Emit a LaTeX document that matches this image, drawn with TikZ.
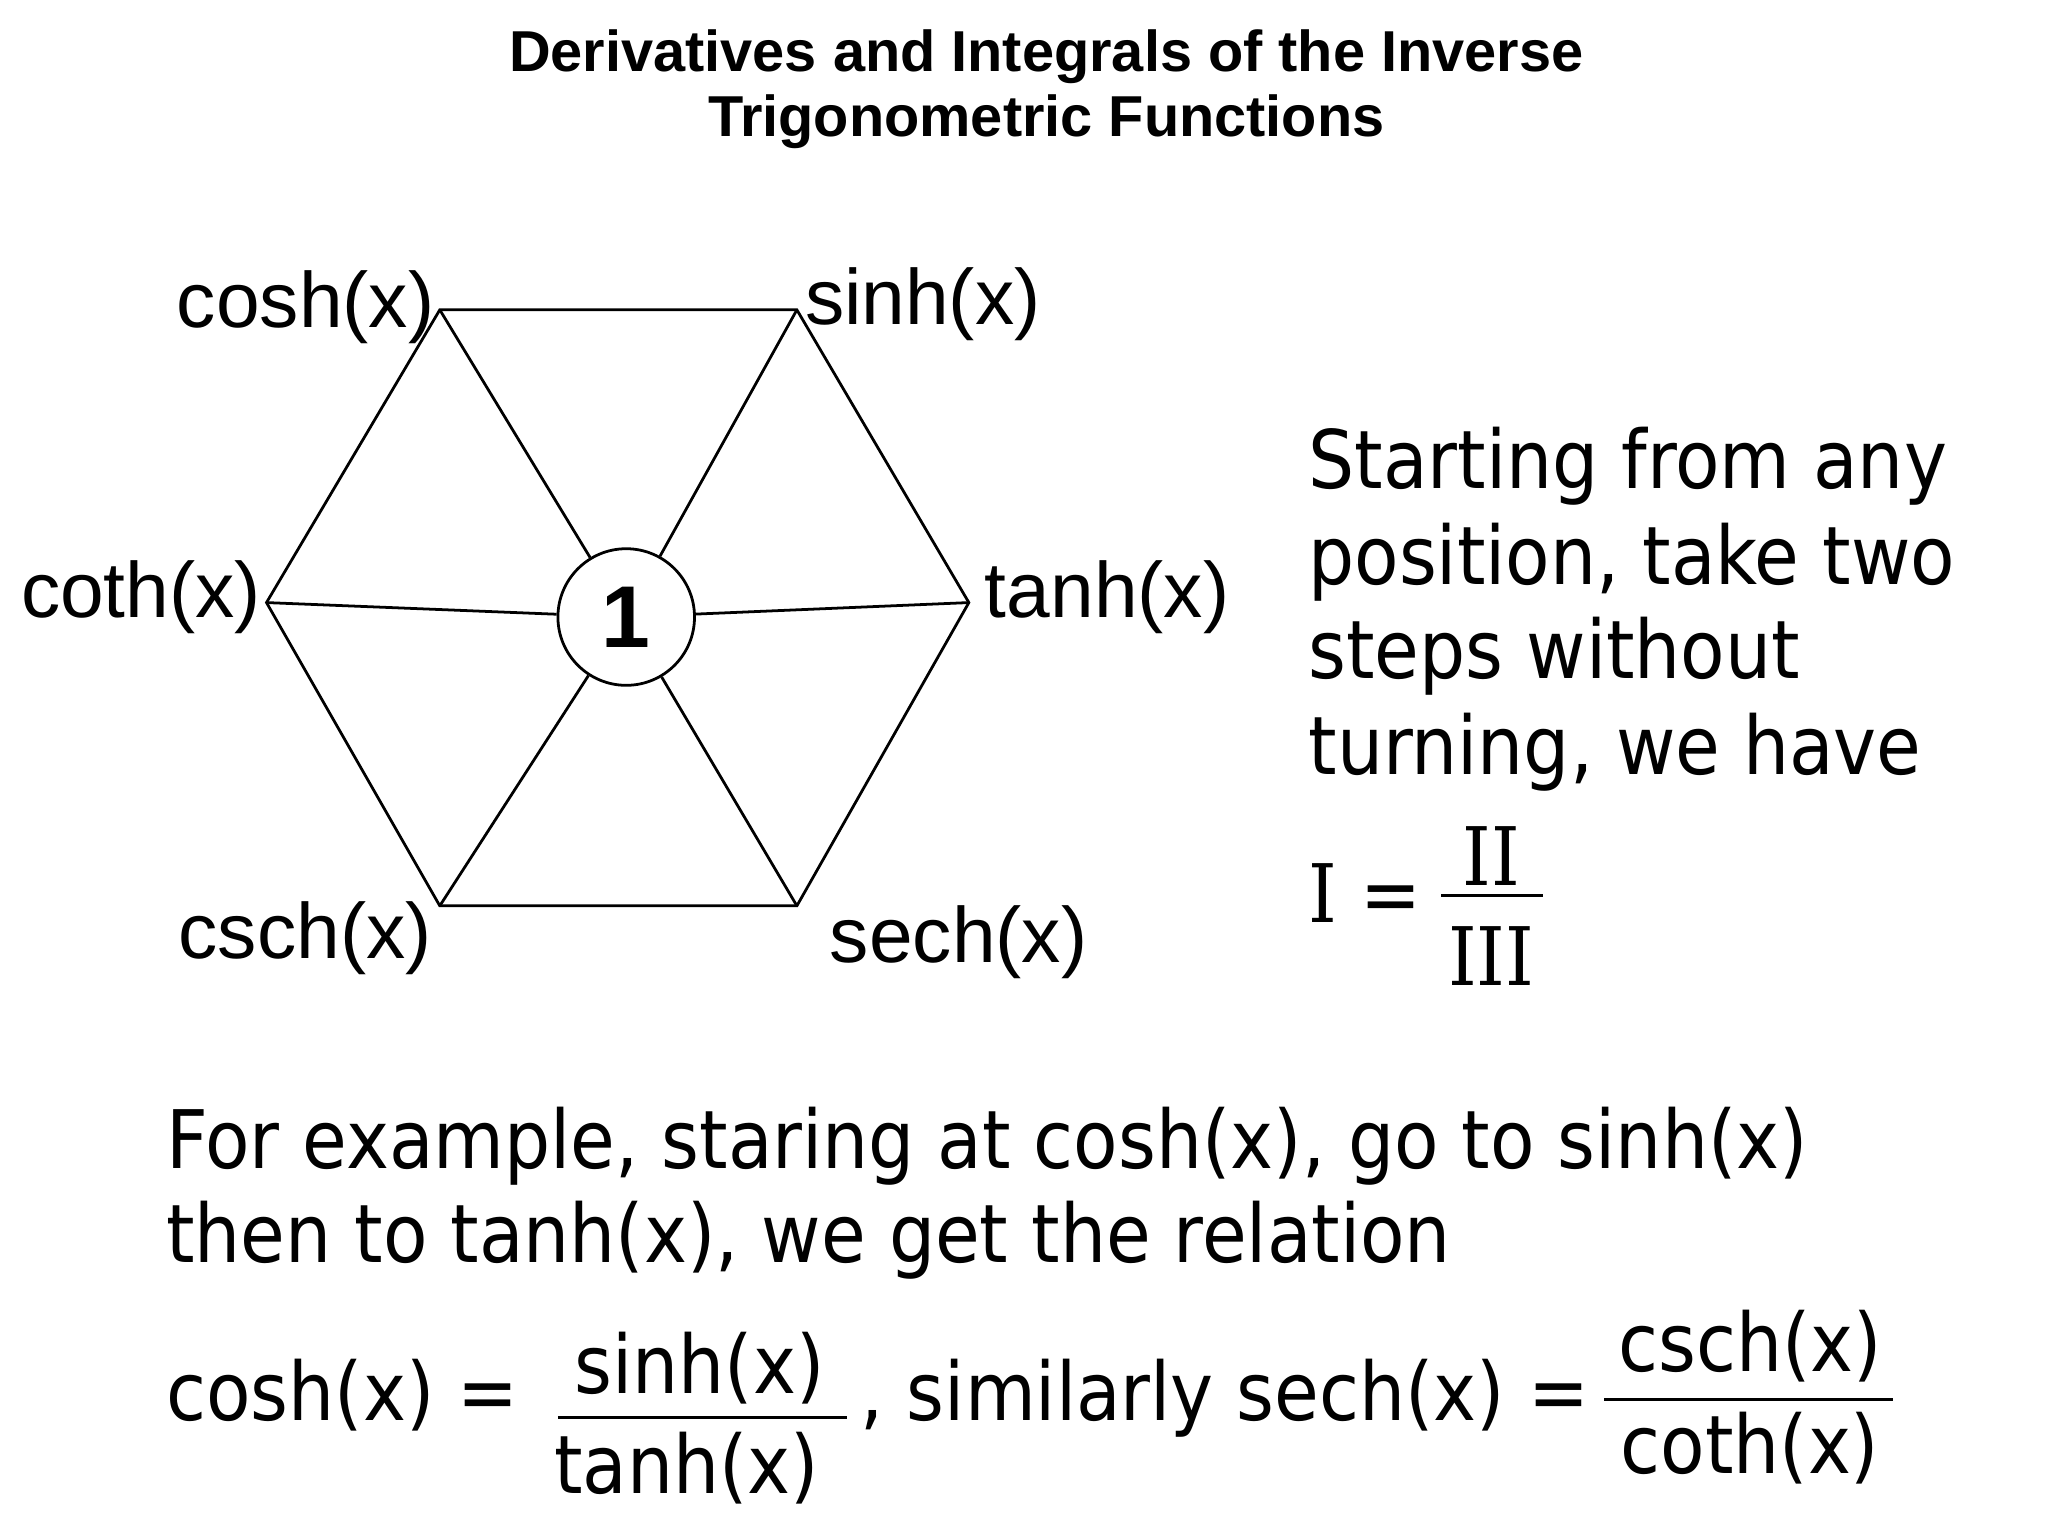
\documentclass[tikz,border=0pt]{standalone}
\usepackage{fontspec}
\setmainfont{Liberation Sans}
\newfontfamily\bodyf{DejaVu Sans Condensed}
\newfontfamily\romf{DejaVu Serif Condensed}
\begin{document}
\begin{tikzpicture}[x=0.01cm,y=-0.01cm,
  lab/.style={font=\fontsize{17}{20}\selectfont},
  body/.style={font=\bodyf\fontsize{17.5}{21}\selectfont,anchor=base west,inner sep=0},
  edge/.style={line width=0.6pt}]
\useasboundingbox (0,0) rectangle (1560,1170);
\node[font=\bfseries\fontsize{12.5}{15}\selectfont,align=center] (title) at (797,68) {Derivatives and Integrals of the Inverse\\[-1pt]Trigonometric Functions};
\coordinate (A) at (335,236); \coordinate (B) at (607,236); \coordinate (C) at (738,459);
\coordinate (D) at (607,690); \coordinate (E) at (335,690); \coordinate (F) at (203,459);
\node[draw,circle,minimum size=1.04cm,inner sep=0,font=\bfseries\fontsize{19}{22}\selectfont,edge] (o) at (477,470) {1};
\draw[edge] (A)--(B)--(C)--(D)--(E)--(F)--cycle;
\foreach \v in {A,B,C,D,E,F} \draw[edge] (\v)--(o);
\node[lab,anchor=east,inner sep=1pt] (lcosh) at (335,234) {cosh(x)};
\node[lab,anchor=west,inner sep=1pt] (lsinh) at (609,232) {sinh(x)};
\node[lab,anchor=west,inner sep=1pt] (ltanh) at (746,455) {tanh(x)};
\node[lab,anchor=east,inner sep=1pt] (lcoth) at (203,455) {coth(x)};
\node[lab,anchor=east,inner sep=1pt] (lcsch) at (333,715) {csch(x)};
\node[lab,anchor=west,inner sep=1pt] (lsech) at (628,718) {sech(x)};
\node[body] (t1) at (996,372) {Starting from any};
\node[body] (t2) at (996,445) {position, take two};
\node[body] (t3) at (996,517) {steps without};
\node[body] (t4) at (996,590) {turning, we have};
\node[body] (eqI) at (996,703) {{\romf I} =};
\node[font=\romf\fontsize{17.5}{21}\selectfont] (II) at (1136,652) {II};
\node[font=\romf\fontsize{17.5}{21}\selectfont] (III) at (1136,728) {III};
\draw[edge] (1098,682)--(1175,682);
\node[body] (b1) at (126,890) {For example, staring at cosh(x), go to sinh(x)};
\node[body] (b2) at (126,962) {then to tanh(x), we get the relation};
\node[body] (b3) at (126,1082) {cosh(x) =};
\node[font=\bodyf\fontsize{17.5}{21}\selectfont] (n1) at (533,1042) {sinh(x)};
\node[font=\bodyf\fontsize{17.5}{21}\selectfont] (d1) at (523,1118) {tanh(x)};
\draw[edge] (425,1080)--(645,1080);
\node[body] (b4) at (655,1082) {, similarly sech(x) =};
\node[font=\bodyf\fontsize{17.5}{21}\selectfont] (n2) at (1333,1025) {csch(x)};
\node[font=\bodyf\fontsize{17.5}{21}\selectfont] (d2) at (1333,1103) {coth(x)};
\draw[edge] (1222,1066)--(1442,1066);
\end{tikzpicture}
\end{document}
